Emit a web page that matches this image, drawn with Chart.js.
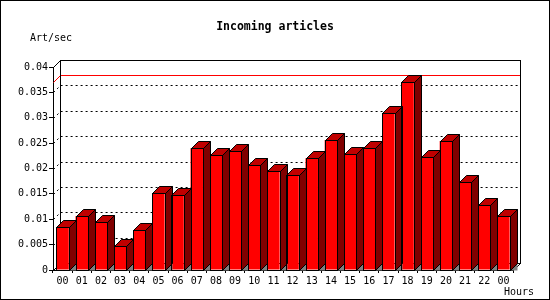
<!DOCTYPE html>
<html><head><meta charset="utf-8">
<script src="https://cdn.jsdelivr.net/npm/chart.js@4"></script>
<style>html,body{margin:0;padding:0;background:#fff}canvas{display:block}</style>
</head><body>
<canvas id="c" width="550" height="300"></canvas>
<script>
// ---- data ----
const hours = ['00','01','02','03','04','05','06','07','08','09','10','11','12','13','14','15','16','17','18','19','20','21','22','00'];
const artPerSec = [0.0084,0.0106,0.0094,0.0047,0.0078,0.0151,0.0147,0.0240,0.0226,0.0234,0.0206,0.0195,0.0187,0.0220,0.0256,0.0228,0.0240,0.0309,0.0370,0.0222,0.0254,0.0173,0.0128,0.0106];
const yTickLabels = ['0','0.005','0.01','0.015','0.02','0.025','0.03','0.035','0.04'];
const chartTitle = 'Incoming articles';
const yAxisTitle = 'Art/sec';
const xAxisTitle = 'Hours';

const DEPTH = 7;
const MONO = '"DejaVu Sans Mono", monospace';

const threeD = {
  id: 'threeD',
  beforeDraw(chart){
    const ctx = chart.ctx;
    ctx.save();
    ctx.fillStyle = '#fff';
    ctx.fillRect(0,0,chart.width,chart.height);
    ctx.restore();
  },
  beforeDatasetsDraw(chart){
    const {ctx, chartArea:a, scales:{y}} = chart;
    const L = Math.round(a.left), R = Math.round(a.right), T = Math.round(a.top), B = Math.round(a.bottom);
    ctx.save();
    ctx.lineWidth = 1;
    // dotted grid lines in the back plane
    ctx.strokeStyle = '#000';
    ctx.setLineDash([2,3]);
    y.ticks.forEach((t,i) => {
      if (i === 0 || i === y.ticks.length - 1) return;
      const yy = Math.round(y.getPixelForValue(t.value));
      ctx.beginPath();
      ctx.moveTo(L+0.5, yy+0.5);
      ctx.lineTo(L+DEPTH+0.5, yy-DEPTH+0.5);
      ctx.lineTo(R+DEPTH+0.5, yy-DEPTH+0.5);
      ctx.stroke();
    });
    ctx.setLineDash([]);
    // max line
    const mx = Math.max(...artPerSec);
    const ym = Math.round(y.getPixelForValue(mx));
    ctx.strokeStyle = '#f00';
    ctx.beginPath();
    ctx.moveTo(L+0.5, ym+0.5);
    ctx.lineTo(L+DEPTH+0.5, ym-DEPTH+0.5);
    ctx.lineTo(R+DEPTH+0.5, ym-DEPTH+0.5);
    ctx.stroke();
    // back wall frame
    ctx.strokeStyle = '#000';
    ctx.strokeRect(L+DEPTH+0.5, T-DEPTH+0.5, R-L, B-T);
    ctx.beginPath();
    ctx.moveTo(L+0.5, T+0.5); ctx.lineTo(L+DEPTH+0.5, T-DEPTH+0.5);
    ctx.moveTo(L+0.5, B+0.5); ctx.lineTo(L+DEPTH+0.5, B-DEPTH+0.5);
    ctx.moveTo(R+0.5, B+0.5); ctx.lineTo(R+DEPTH+0.5, B-DEPTH+0.5);
    ctx.stroke();
    ctx.restore();
  },
  afterDatasetsDraw(chart){
    const ctx = chart.ctx;
    const meta = chart.getDatasetMeta(0);
    ctx.save();
    ctx.lineWidth = 1;
    ctx.strokeStyle = '#000';
    meta.data.forEach(bar => {
      const p = bar.getProps(['x','y','base','width'], true);
      const l = Math.round(p.x - p.width/2), r = Math.round(p.x + p.width/2);
      const t = Math.round(p.y), b = Math.round(p.base);
      // floor triangle
      ctx.fillStyle = '#808080';
      ctx.beginPath();
      ctx.moveTo(r+0.5, b+0.5); ctx.lineTo(r+DEPTH+0.5, b-DEPTH+0.5); ctx.lineTo(r+DEPTH+0.5, b+0.5); ctx.closePath();
      ctx.fill();
      // side face
      ctx.fillStyle = '#800000';
      ctx.beginPath();
      ctx.moveTo(r+0.5, t+0.5); ctx.lineTo(r+DEPTH+0.5, t-DEPTH+0.5);
      ctx.lineTo(r+DEPTH+0.5, b-DEPTH+0.5); ctx.lineTo(r+0.5, b+0.5); ctx.closePath();
      ctx.fill(); ctx.stroke();
      // top face
      ctx.fillStyle = '#c00000';
      ctx.beginPath();
      ctx.moveTo(l+0.5, t+0.5); ctx.lineTo(l+DEPTH+0.5, t-DEPTH+0.5);
      ctx.lineTo(r+DEPTH+0.5, t-DEPTH+0.5); ctx.lineTo(r+0.5, t+0.5); ctx.closePath();
      ctx.fill(); ctx.stroke();
      // front outline
      ctx.strokeRect(l+0.5, t+0.5, r-l, b-t);
    });
    ctx.restore();
  },
  afterDraw(chart){
    const ctx = chart.ctx;
    ctx.save();
    ctx.fillStyle = '#000';
    ctx.textBaseline = 'middle';
    ctx.font = 'bold 11.5px ' + MONO;
    ctx.textAlign = 'center';
    ctx.fillText(chartTitle, 275, 27);
    ctx.font = '10px ' + MONO;
    ctx.textAlign = 'left';
    ctx.fillText(yAxisTitle, 30, 38);
    ctx.fillText(xAxisTitle, 504, 292);
    ctx.strokeStyle = '#000';
    ctx.lineWidth = 1;
    ctx.strokeRect(0.5, 0.5, chart.width-1, chart.height-1);
    ctx.restore();
  }
};

new Chart(document.getElementById('c'), {
  type: 'bar',
  data: {
    labels: hours,
    datasets: [{
      data: artPerSec,
      backgroundColor: '#ff0000',
      borderWidth: 0,
      barPercentage: 0.65,
      categoryPercentage: 1.0
    }]
  },
  options: {
    responsive: false,
    animation: false,
    devicePixelRatio: 1,
    layout: { padding: { top: 67, right: 37, left: 0, bottom: 0 } },
    plugins: { legend: { display: false }, tooltip: { enabled: false }, title: { display: false } },
    scales: {
      x: {
        grid: { display: true, drawOnChartArea: false, drawTicks: true, tickLength: 3, color: '#000', offset: true },
        border: { display: true, color: '#000' },
        ticks: { color: '#000', font: { family: MONO, size: 10 }, padding: 2, autoSkip: false, maxRotation: 0 },
        afterFit(s){ s.height = 30; }
      },
      y: {
        min: 0, max: 0.04,
        grid: { display: true, drawOnChartArea: false, drawTicks: true, tickLength: 4, color: '#000' },
        border: { display: true, color: '#000' },
        ticks: { stepSize: 0.005, color: '#000', font: { family: MONO, size: 10 }, padding: 1,
                 callback: (v, i) => yTickLabels[i] },
        afterFit(s){ s.width = 53; }
      }
    }
  },
  plugins: [threeD]
});
</script>
</body></html>
